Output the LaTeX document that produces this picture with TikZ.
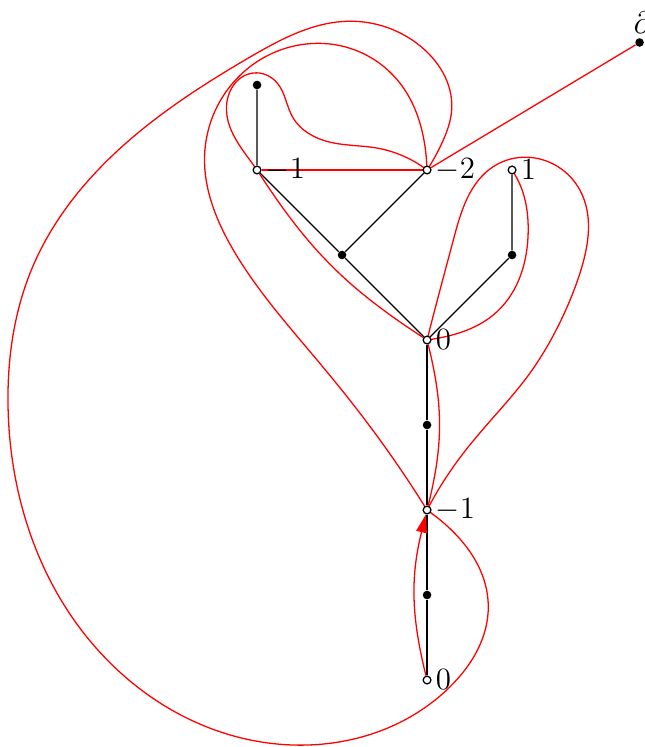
\documentclass[tikz,border=0pt]{standalone}
\usetikzlibrary{arrows.meta,hobby}
\pgfdeclarelayer{bg}
\pgfsetlayers{bg,main}
\begin{document}
\begin{tikzpicture}[x=1.389cm,y=1.389cm,
  wv/.style={circle,draw=black,fill=white,line width=0.6pt,inner sep=0pt,minimum size=3.6pt},
  bv/.style={circle,fill=black,inner sep=0pt,minimum size=4pt},
  blk/.style={draw=black,line width=0.6pt},
  rd/.style={draw=red,line width=0.6pt},
  lab/.style={inner sep=1.8pt,font=\Large},
  arr/.style={-{Triangle[length=8.5pt,width=5pt]}},
]
\useasboundingbox (-5.024,-0.788) rectangle (2.553,8.0);
\node[wv,label={[lab]right:$0$}] (E) at (0,0) {};
\node[bv] (e1) at (0,1) {};
\node[wv,label={[lab]right:$-1$}] (D) at (0,2) {};
\node[bv] (e2) at (0,3) {};
\node[wv,label={[lab]right:$0$}] (C) at (0,4) {};
\node[bv] (M) at (-1,5) {};
\node[bv] (R) at (1,5) {};
\node[wv,label={[lab]right:$-1$}] (A) at (-2,6) {};
\node[wv,label={[lab]right:$-2$}] (B) at (0,6) {};
\node[wv,label={[lab]right:$1$}] (O) at (1,6) {};
\node[bv] (T) at (-2,7) {};
\node[bv,label={[lab,inner sep=2pt,xshift=1.5pt]above:$\partial$}] (P) at (2.5,7.5) {};

\begin{pgfonlayer}{bg}
\draw[blk] (E)--(e1)--(D)--(e2)--(C);
\draw[blk] (C)--(M)--(A)--(T);
\draw[blk] (M)--(B);
\draw[blk] (C)--(R)--(O);

\draw[rd] (A)--(B);
\draw[rd] (B)--(P);
\draw[rd] (A) to[bend right=12] (C);
\draw[rd] (C) to[bend left=14] (D);
\draw[rd,arr,red] (E) to[bend left=14] (D);

% outer big curve
\draw[rd,use Hobby shortcut] ([out angle=-35]D.center) .. (0.72,0.88) .. (0.27,-0.08)
  .. (-1.41,-0.765) .. (-3.46,-0.04) .. (-4.93,3.26) .. (-4.64,4.86)
  .. (-4.24,5.56) .. (-3.26,6.55) .. (-2.08,7.33) .. (-0.91,7.75)
  .. (-0.12,7.49) .. (0.29,6.71) .. (0.19,6.35) .. (B.center);

% second curve B -> D
\draw[rd,use Hobby shortcut] ([out angle=92]B.center) .. (-0.35,7.06) .. (-1.29,7.49)
  .. (-2.61,6.27) .. (-2.28,5.06) .. (-1.29,3.76) .. (-0.79,3.14) .. (D.center);

% small loop A -> B
\draw[rd,use Hobby shortcut] ([out angle=125]A.center) .. (-2.36,6.71) .. (-2.05,7.14)
  .. (-1.76,7.02) .. (-1.58,6.62) .. (-1.11,6.32) .. (-0.6,6.26) .. (B.center);

% C -> around 1 -> D
\draw[rd,use Hobby shortcut] ([out angle=76]C.center) .. (0.31,5.18) .. (0.78,6.04)
  .. (1.18,6.15) .. (1.80,5.76) .. (1.80,4.79) .. (1.56,4.20) .. (1.21,3.61)
  .. (0.78,3.09) .. (0.39,2.62) .. (D.center);

% C -> 1
\draw[rd,use Hobby shortcut] ([out angle=8]C.center) .. (0.82,4.33)
  .. (1.19,5.29) .. (1.13,5.73) .. (O.center);
\end{pgfonlayer}
\end{tikzpicture}
\end{document}
